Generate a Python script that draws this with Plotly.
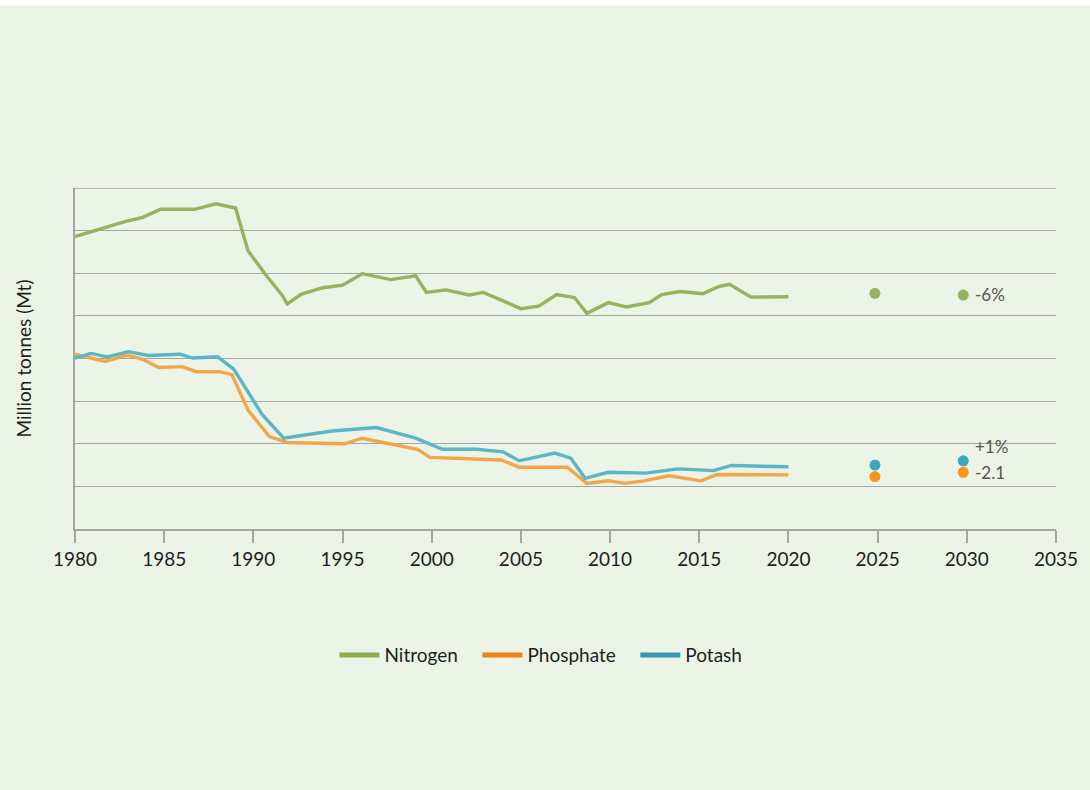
import plotly.graph_objects as go

# Historical series (year, value)
nitrogen_years = [1980, 1980.8, 1982.0, 1982.8, 1983.8, 1984.8, 1986.7, 1987.9, 1989.0, 1989.7,
                  1990.7, 1991.6, 1991.9, 1992.7, 1993.9, 1995.0, 1996.1, 1997.7, 1999.1, 1999.7,
                  2000.8, 2002.1, 2002.9, 2005.0, 2006.0, 2007.0, 2008.0, 2008.7, 2009.9, 2010.9,
                  2012.2, 2012.9, 2013.9, 2015.2, 2016.1, 2016.7, 2017.9, 2019.0, 2020.0]
nitrogen_vals = [68.6, 69.6, 71.0, 72.1, 73.1, 75.0, 75.0, 76.3, 75.3, 65.3,
                 59.6, 54.9, 52.8, 55.1, 56.6, 57.2, 59.9, 58.5, 59.4, 55.5,
                 56.1, 54.9, 55.5, 51.7, 52.3, 55.0, 54.3, 50.6, 53.1, 52.1,
                 53.1, 55.0, 55.7, 55.2, 56.9, 57.4, 54.4, 54.5, 54.5]

phosphate_years = [1980, 1981.7, 1982.9, 1983.8, 1984.7, 1986.0, 1986.8, 1988.1, 1988.8, 1989.7,
                   1990.9, 1991.9, 1995.1, 1996.1, 1999.2, 1999.9, 2003.9, 2004.9, 2007.6, 2008.7,
                   2009.9, 2010.8, 2011.9, 2013.3, 2015.1, 2016.0, 2020.0]
phosphate_vals = [41.0, 39.3, 40.8, 39.8, 37.9, 38.1, 36.9, 36.9, 36.2, 27.9,
                  21.7, 20.3, 20.0, 21.3, 18.7, 16.8, 16.2, 14.5, 14.5, 10.7,
                  11.3, 10.7, 11.3, 12.5, 11.3, 12.8, 12.7]

potash_years = [1980, 1980.9, 1981.8, 1983.0, 1984.1, 1985.9, 1986.6, 1988.0, 1988.9, 1990.5,
                1991.7, 1994.4, 1996.9, 1999.1, 2000.6, 2002.5, 2004.0, 2004.9, 2006.9, 2007.8,
                2008.6, 2009.9, 2012.0, 2013.8, 2015.8, 2016.8, 2020.0]
potash_vals = [40.1, 41.2, 40.4, 41.6, 40.7, 41.0, 40.1, 40.4, 37.5, 26.8,
               21.3, 23.0, 23.8, 21.3, 18.7, 18.7, 18.1, 16.0, 17.8, 16.6,
               11.9, 13.3, 13.1, 14.1, 13.7, 14.9, 14.6]

# Projections
proj_years = [2024.85, 2029.8]
nitrogen_proj = [55.3, 54.9]
phosphate_proj = [12.3, 13.3]
potash_proj = [15.0, 16.0]

proj_labels = ["-6%", "+1%", "-2.1"]
proj_label_y = [54.9, 19.3, 13.3]

series_names = ["Nitrogen", "Phosphate", "Potash"]
line_colors = ["#98b35e", "#f4a64b", "#5bb6c6"]
dot_colors = ["#98b35e", "#f5961f", "#3aa8bd"]
legend_colors = ["#8fac52", "#ee8414", "#3a97b2"]

BG = "#ecf3e7"
GRID = "#a4a7a1"
FONT = "Lato"
TEXT = "#1e1e1e"
PAD = "\u00a0\u00a0\u00a0"

fig = go.Figure()

hist = [(nitrogen_years, nitrogen_vals), (phosphate_years, phosphate_vals), (potash_years, potash_vals)]
proj = [nitrogen_proj, phosphate_proj, potash_proj]

# top border line of the plot area (gridline at the top of the range)
fig.add_shape(type="line", xref="paper", yref="y", x0=0, x1=1, y0=80, y1=80,
              line=dict(color=GRID, width=1.5), layer="below")

for (xs, ys), c in zip(hist, line_colors):
    fig.add_trace(go.Scatter(x=xs, y=ys, mode="lines", line=dict(color=c, width=3.4),
                             showlegend=False, hoverinfo="skip"))

for ys, c in zip(proj, dot_colors):
    fig.add_trace(go.Scatter(x=proj_years, y=ys, mode="markers",
                             marker=dict(color=c, size=11), showlegend=False, hoverinfo="skip"))

for i, (name, c) in enumerate(zip(series_names, legend_colors)):
    label = name + (PAD if i < len(series_names) - 1 else "")
    fig.add_trace(go.Scatter(x=[None], y=[None], mode="lines", name=label,
                             line=dict(color=c, width=5)))

for txt, yv in zip(proj_labels, proj_label_y):
    fig.add_annotation(x=2030.35, y=yv, text=txt, showarrow=False, xanchor="left",
                       yanchor="middle", font=dict(family=FONT, size=17, color="#555555"))

# white strip at very top of page
fig.add_shape(type="rect", xref="paper", yref="paper", x0=-0.2, x1=1.1, y0=1.535, y1=1.7,
              fillcolor="white", line=dict(width=0), layer="below")

fig.update_layout(
    width=1090, height=790,
    paper_bgcolor=BG, plot_bgcolor=BG,
    margin=dict(l=75, r=31, t=188, b=261),
    font=dict(family=FONT, size=19, color=TEXT),
    legend=dict(orientation="h", x=0.475, xanchor="center", y=-0.37, yanchor="middle",
                font=dict(family=FONT, size=19, color=TEXT), itemwidth=40,
                bgcolor="rgba(0,0,0,0)"),
    xaxis=dict(range=[1980, 2035], tickmode="array",
               tickvals=[1980, 1985, 1990, 1995, 2000, 2005, 2010, 2015, 2020, 2025, 2030, 2035],
               ticks="outside", ticklen=12, tickwidth=1.5, tickcolor=GRID,
               showline=True, linecolor=GRID, linewidth=1.5, showgrid=False, zeroline=False,
               tickfont=dict(family=FONT, size=19, color=TEXT)),
    yaxis=dict(range=[0, 80], dtick=10, showticklabels=False, ticks="",
               showgrid=True, gridcolor=GRID, gridwidth=1.3,
               showline=True, linecolor=GRID, linewidth=1.5, zeroline=False,
               title=dict(text="Million tonnes (Mt)", standoff=37,
                          font=dict(family=FONT, size=19, color=TEXT))),
)

fig.write_html("out.html", config={"displayModeBar": False},
               post_script="document.body.style.margin='0';document.body.style.padding='0';")
